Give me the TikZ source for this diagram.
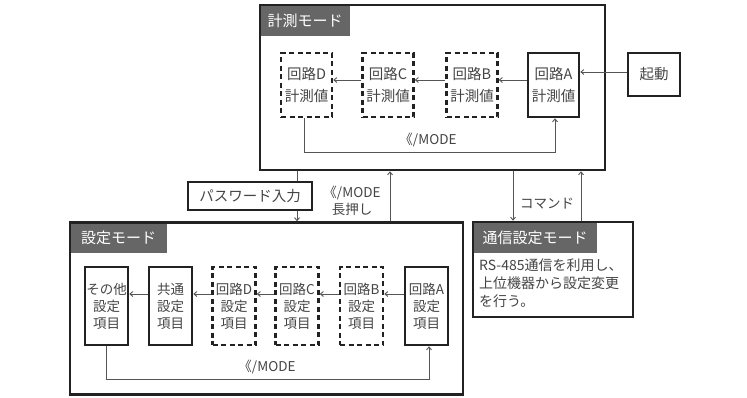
\documentclass[tikz,border=0pt]{standalone}
\usepackage{fontspec}
\setmainfont{Noto Sans CJK JP}
\usetikzlibrary{arrows.meta,calc}
\definecolor{txt}{HTML}{444444}
\definecolor{tabgray}{HTML}{666666}
\definecolor{linec}{HTML}{555555}
\definecolor{bord}{HTML}{222222}
\tikzset{
  outerbox/.style={draw=bord,line width=2.5pt,inner sep=0pt},
  tabbox/.style={fill=tabgray,text=white,inner sep=0pt,anchor=north west,font=\fontsize{15}{17}\selectfont,minimum height=31pt},
  solidbox/.style={draw=bord,line width=2.5pt,inner sep=0pt,text=txt,align=center},
  dashbox/.style={draw=bord,line width=2.5pt,dash pattern=on 5pt off 3.5pt,inner sep=0pt,text=txt,align=center},
  mfont/.style={font=\fontsize{14.5}{22}\selectfont},
  sfont/.style={font=\fontsize{13.5}{17}\selectfont},
  conn/.style={draw=linec,line width=0.9pt},
  arr/.style={conn,-{Straight Barb[length=3pt,width=5pt]}},
  lbl/.style={text=txt,inner sep=0pt,font=\fontsize{13.5}{17.5}\selectfont,align=center},
}
\begin{document}
\begin{tikzpicture}[x=1pt,y=-1pt]
\useasboundingbox (0,0) rectangle (747,397);
% ---------- measurement mode ----------
\node[tabbox,minimum width=90pt] (mtab) at (260,5) {計測モード};
\node[outerbox,minimum width=345pt,minimum height=165pt] (meas) at (432.5,87.5) {};
\node[dashbox,mfont,minimum width=51pt,minimum height=64pt] (mD) at (306.5,85) {回路D\\計測値};
\node[dashbox,mfont,minimum width=51pt,minimum height=64pt] (mC) at (388,85) {回路C\\計測値};
\node[dashbox,mfont,minimum width=51pt,minimum height=64pt] (mB) at (472,85) {回路B\\計測値};
\node[solidbox,mfont,minimum width=51pt,minimum height=64pt] (mA) at (553.5,85) {回路A\\計測値};
\node[solidbox,mfont,minimum width=52pt,minimum height=43pt] (kido) at (654,74.5) {起動};
\draw[arr] ([yshift=5pt]mA.west) -- ([yshift=5pt]mB.east);
\draw[arr] ([yshift=5pt]mB.west) -- ([yshift=5pt]mC.east);
\draw[arr] ([yshift=5pt]mC.west) -- ([yshift=5pt]mD.east);
\draw[arr] ([yshift=2.5pt]kido.west) -- ([yshift=2.5pt]kido.west -| mA.east);
\coordinate (mloop) at (0,152);
\draw[arr] ([xshift=-2.5pt]mD.south) -- ([xshift=-2.5pt]mD.south |- mloop) -| ([xshift=1.5pt]mA.south);
\node[lbl] (mmode) at (428,140) {《/MODE};
% ---------- password ----------
\node[solidbox,font=\fontsize{14.5}{16}\selectfont,minimum width=124pt,minimum height=28pt] (pw) at (250,196) {パスワード入力};
% ---------- setting mode ----------
\node[tabbox,minimum width=97pt] (stab) at (70,222) {設定モード};
\node[outerbox,minimum width=393pt,minimum height=172pt] (set) at (266.5,308.5) {};
\node[solidbox,sfont,minimum width=43pt,minimum height=78pt] (sO) at (106.5,306) {その他\\設定\\項目};
\node[solidbox,sfont,minimum width=43pt,minimum height=78pt] (sK) at (170.5,306) {共通\\設定\\項目};
\node[dashbox,sfont,minimum width=43pt,minimum height=78pt] (sD) at (234,306) {回路D\\設定\\項目};
\node[dashbox,sfont,minimum width=43pt,minimum height=78pt] (sC) at (297,306) {回路C\\設定\\項目};
\node[dashbox,sfont,minimum width=43pt,minimum height=78pt] (sB) at (361.5,306) {回路B\\設定\\項目};
\node[solidbox,sfont,minimum width=43pt,minimum height=78pt] (sA) at (426.5,306) {回路A\\設定\\項目};
\draw[arr] ([yshift=12pt]sA.west) -- ([yshift=12pt]sB.east);
\draw[arr] ([yshift=12pt]sB.west) -- ([yshift=12pt]sC.east);
\draw[arr] ([yshift=12pt]sC.west) -- ([yshift=12pt]sD.east);
\draw[arr] ([yshift=12pt]sD.west) -- ([yshift=12pt]sK.east);
\draw[arr] ([yshift=12pt]sK.west) -- ([yshift=12pt]sO.east);
\coordinate (sloop) at (0,379);
\draw[arr] (sO.south) -- (sO.south |- sloop) -| ([xshift=2.5pt]sA.south);
\node[lbl] (smode) at (267,367) {《/MODE};
% ---------- comm mode ----------
\node[tabbox,minimum width=124pt] (ctab) at (473,222) {通信設定モード};
\node[outerbox,minimum width=160pt,minimum height=95pt] (comm) at (553,269.5) {};
\node[anchor=north west,inner sep=0pt,text=txt,align=left,font=\fontsize{14}{18}\selectfont] (ctext) at (479,259) {RS-485通信を利用し、\\上位機器から設定変更\\を行う。};
% ---------- transitions ----------
\coordinate (xpw) at (297,0);
\coordinate (xup) at (390,0);
\coordinate (xcd) at (513,0);
\coordinate (xcu) at (581,0);
\draw[conn] (meas.south -| xpw) -- (pw.north -| xpw);
\draw[arr] (pw.south -| xpw) -- (set.north -| xpw);
\draw[arr] (set.north -| xup) -- (meas.south -| xup);
\node[lbl] (longp) at (352,201) {《/MODE\\長押し};
\draw[arr] (meas.south -| xcd) -- (comm.north -| xcd);
\draw[arr] (comm.north -| xcu) -- (meas.south -| xcu);
\node[lbl] (cmd) at (547,204) {コマンド};
\end{tikzpicture}
\end{document}
